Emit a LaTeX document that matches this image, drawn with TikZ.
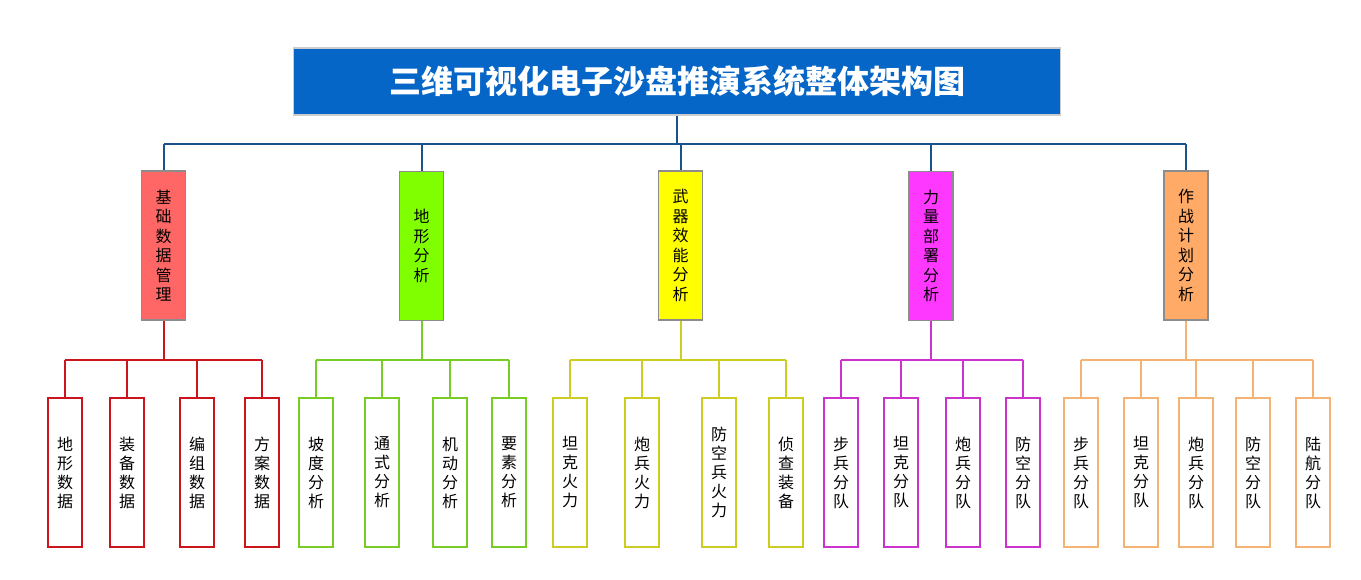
\documentclass[tikz,border=0pt]{standalone}
\usepackage{fontspec}
\setmainfont{Noto Sans CJK SC}
\usetikzlibrary{positioning}

\definecolor{headblue}{RGB}{5,102,200}
\definecolor{busblue}{RGB}{28,82,140}
\definecolor{jcfill}{RGB}{255,102,102}
\definecolor{dxfill}{RGB}{128,255,0}
\definecolor{wqfill}{RGB}{255,255,0}
\definecolor{llfill}{RGB}{255,56,255}
\definecolor{zzfill}{RGB}{255,170,102}
\definecolor{jcline}{RGB}{204,20,28}
\definecolor{dxline}{RGB}{120,204,36}
\definecolor{wqline}{RGB}{204,204,34}
\definecolor{llline}{RGB}{204,51,204}
\definecolor{zzline}{RGB}{244,178,115}

\tikzset{
  headbox/.style={draw=gray!40, line width=1.5pt, fill=headblue, text=white,
    minimum width=767pt, minimum height=67pt, inner sep=0pt,
    font=\fontsize{32}{36}\selectfont\bfseries},
  topbox/.style={draw=gray!90, line width=1.5pt, minimum width=44pt,
    minimum height=149pt, inner sep=0pt, align=center,
    font=\fontsize{16}{19.5}\selectfont},
  leafbox/.style={draw=#1, fill=white, line width=2.5pt, minimum width=34pt,
    minimum height=149pt, inner sep=0pt, align=center,
    font=\fontsize{16}{19}\selectfont},
  busline/.style={draw=busblue, line width=2pt},
  grpline/.style={draw=#1, line width=2pt},
}

\begin{document}
\begin{tikzpicture}[x=1pt,y=-1pt]
\useasboundingbox (0,0) rectangle (1361,580);

% title
\node[headbox] (head) at (677,81.5) {三维可视化电子沙盘推演系统整体架构图};
\coordinate (bus) at (0,144);

% second level
\node[topbox, fill=jcfill] (jc) at (163.5,245.5) {基\\础\\数\\据\\管\\理};
\node[topbox, fill=dxfill] (dx) at (421.5,246) {地\\形\\分\\析};
\node[topbox, fill=wqfill] (wq) at (680.5,245.5) {武\\器\\效\\能\\分\\析};
\node[topbox, fill=llfill] (ll) at (931,246) {力\\量\\部\\署\\分\\析};
\node[topbox, fill=zzfill] (zz) at (1186,245.5) {作\\战\\计\\划\\分\\析};

\draw[busline] (head.south) -- (head.south |- bus);
\draw[busline] (jc.north |- bus) -- (zz.north |- bus);
\foreach \n in {jc,dx,wq,ll,zz} {
  \draw[busline] (\n.north) -- (\n.north |- bus);
}

% leaves
\foreach \i/\x/\t in {1/65/{地\\形\\数\\据}, 2/127/{装\\备\\数\\据},
                      3/197/{编\\组\\数\\据}, 4/262/{方\\案\\数\\据}} {
  \node[leafbox=jcline] (jc\i) at (\x,472.5) {\t};
}
\foreach \i/\x/\t in {1/316/{坡\\度\\分\\析}, 2/382/{通\\式\\分\\析},
                      3/450/{机\\动\\分\\析}, 4/509/{要\\素\\分\\析}} {
  \node[leafbox=dxline] (dx\i) at (\x,472.5) {\t};
}
\foreach \i/\x/\t in {1/570/{坦\\克\\火\\力}, 2/642/{炮\\兵\\火\\力},
                      3/719/{防\\空\\兵\\火\\力}, 4/786/{侦\\查\\装\\备}} {
  \node[leafbox=wqline] (wq\i) at (\x,472.5) {\t};
}
\foreach \i/\x/\t in {1/841/{步\\兵\\分\\队}, 2/901/{坦\\克\\分\\队},
                      3/963/{炮\\兵\\分\\队}, 4/1023/{防\\空\\分\\队}} {
  \node[leafbox=llline] (ll\i) at (\x,472.5) {\t};
}
\foreach \i/\x/\t in {1/1081/{步\\兵\\分\\队}, 2/1141/{坦\\克\\分\\队},
                      3/1196/{炮\\兵\\分\\队}, 4/1253/{防\\空\\分\\队},
                      5/1313/{陆\\航\\分\\队}} {
  \node[leafbox=zzline] (zz\i) at (\x,472.5) {\t};
}

% group connectors
\coordinate (bar) at (0,360);
\foreach \n/\last in {jc/4, dx/4, wq/4, ll/4, zz/5} {
  \draw[grpline=\n line] (\n.south) -- (\n.south |- bar);
  \draw[grpline=\n line] (\n1.north |- bar) -- (\n\last.north |- bar);
  \foreach \i in {1,...,\last} {
    \draw[grpline=\n line] (\n\i.north) -- (\n\i.north |- bar);
  }
}
\end{tikzpicture}
\end{document}
